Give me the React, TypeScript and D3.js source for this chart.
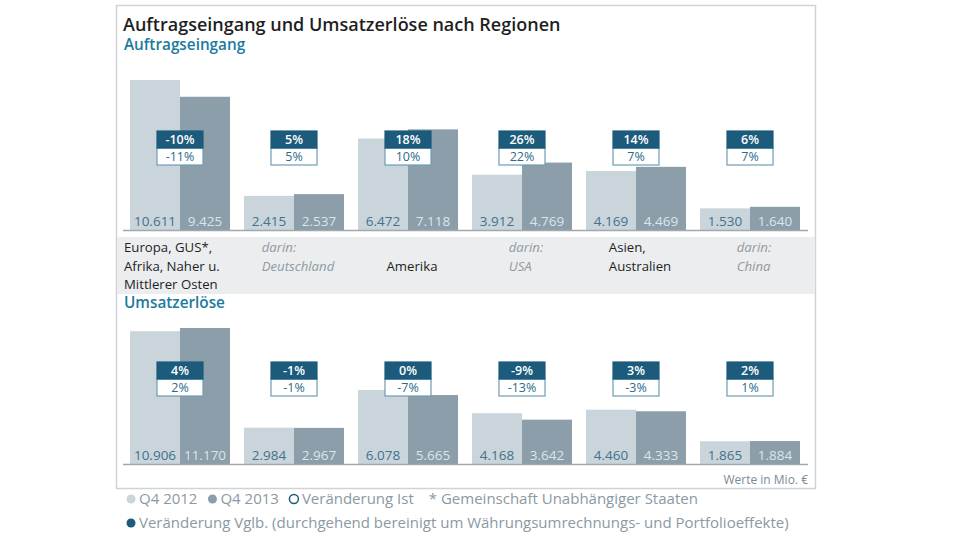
import React, { useEffect, useRef } from 'react';
import * as d3 from 'd3';

const regions = ['Europa', 'Deutschland', 'Amerika', 'USA', 'Asien', 'China'];
const regionLines = [
  ['Europa, GUS*,', 'Afrika, Naher u.', 'Mittlerer Osten'],
  ['darin:', 'Deutschland'],
  ['Amerika'],
  ['darin:', 'USA'],
  ['Asien,', 'Australien'],
  ['darin:', 'China'],
];
const isSubRegion = [false, true, false, true, false, true];
const periods = ['Q4 2012', 'Q4 2013'];

const ordersQ4_2012 = [10611, 2415, 6472, 3912, 4169, 1530];
const ordersQ4_2013 = [9425, 2537, 7118, 4769, 4469, 1640];
const ordersVglb = [-10, 5, 18, 26, 14, 6];
const ordersIst = [-11, 5, 10, 22, 7, 7];

const revenueQ4_2012 = [10906, 2984, 6078, 4168, 4460, 1865];
const revenueQ4_2013 = [11170, 2967, 5665, 3642, 4333, 1884];
const revenueVglb = [4, -1, 0, -9, 3, 2];
const revenueIst = [2, -1, -7, -13, -3, 1];

const legendRow1 = ['Q4 2012', 'Q4 2013', 'Veränderung Ist', '* Gemeinschaft Unabhängiger Staaten'];
const legendRow2 = 'Veränderung Vglb. (durchgehend bereinigt um Währungsumrechnungs- und Portfolioeffekte)';

const FONT = '"Open Sans", "DejaVu Sans", sans-serif';
const LIGHT = '#c9d4db';
const DARK = '#8b9eaa';
const NAVY = '#1c5b7b';
const TEAL = '#1c7a9e';

const loc = d3.formatLocale({ decimal: ',', thousands: '.', grouping: [3], currency: ['', ' €'] });
const fmt = loc.format(',d');

export default function App() {
  const svgRef = useRef<SVGSVGElement>(null);

  useEffect(() => {
    if (!svgRef.current) return;
    const svg = d3.select(svgRef.current);
    svg.selectAll('*').remove();

    // frame
    svg.append('rect').attr('x', 116.5).attr('y', 5.5).attr('width', 699).attr('height', 483)
      .attr('fill', '#fff').attr('stroke', '#cfd3d6').attr('stroke-width', 1.5);

    svg.append('text').attr('x', 123).attr('y', 31).attr('font-family', FONT).attr('font-size', 18)
      .attr('font-weight', 600).attr('fill', '#1f1f1f').text('Auftragseingang und Umsatzerlöse nach Regionen');

    const x = d3.scaleBand<string>().domain(regions).range([130, 800]).paddingInner(14 / 114).paddingOuter(0);
    const xi = d3.scaleBand<string>().domain(periods).range([0, x.bandwidth()]);

    const panel = (
      title: string, titleY: number, base: number, top: number, boxTop: number,
      a: number[], b: number[], vglb: number[], ist: number[]
    ) => {
      svg.append('text').attr('x', 124).attr('y', titleY).attr('font-family', FONT).attr('font-size', 15.3)
        .attr('font-weight', 600).attr('fill', TEAL).text(title);

      const y = d3.scaleLinear().domain([0, d3.max([...a, ...b]) as number]).range([base, top]);
      const g = svg.append('g');
      const groups = g.selectAll('g.grp').data(regions).enter().append('g')
        .attr('transform', (d) => `translate(${x(d)},0)`);

      groups.each(function (_d, i) {
        const gg = d3.select(this);
        const vals = [a[i], b[i]];
        periods.forEach((p, j) => {
          gg.append('rect').attr('x', xi(p) as number).attr('y', y(vals[j]))
            .attr('width', xi.bandwidth()).attr('height', base - y(vals[j]))
            .attr('fill', j === 0 ? LIGHT : DARK);
          gg.append('text').attr('x', (xi(p) as number) + xi.bandwidth() / 2).attr('y', base - 9)
            .attr('dy', '0.35em').attr('text-anchor', 'middle').attr('font-family', FONT)
            .attr('font-size', 13.5).attr('fill', j === 0 ? '#44718c' : '#dce5ea').text(fmt(vals[j]));
        });
        // change boxes
        const cx = x.bandwidth() / 2;
        const bw = 46, bh = 17;
        gg.append('rect').attr('x', cx - bw / 2).attr('y', boxTop + bh).attr('width', bw).attr('height', bh)
          .attr('fill', '#fff').attr('stroke', '#6f9bb2').attr('stroke-width', 1.2);
        gg.append('rect').attr('x', cx - bw / 2).attr('y', boxTop).attr('width', bw).attr('height', bh)
          .attr('fill', NAVY).attr('stroke', NAVY).attr('stroke-width', 1.2);
        gg.append('text').attr('x', cx).attr('y', boxTop + bh / 2).attr('dy', '0.36em')
          .attr('text-anchor', 'middle').attr('font-family', FONT).attr('font-size', 12.5)
          .attr('font-weight', 600).attr('fill', '#fff').text(`${vglb[i]}%`);
        gg.append('text').attr('x', cx).attr('y', boxTop + bh * 1.5).attr('dy', '0.36em')
          .attr('text-anchor', 'middle').attr('font-family', FONT).attr('font-size', 12.5)
          .attr('fill', '#2b6a89').text(`${ist[i]}%`);
      });

      g.append('line').attr('x1', 123).attr('x2', 808).attr('y1', base + 0.5).attr('y2', base + 0.5)
        .attr('stroke', '#9fa9b0').attr('stroke-width', 1.5);
    };

    panel('Auftragseingang', 50, 230, 80, 131, ordersQ4_2012, ordersQ4_2013, ordersVglb, ordersIst);

    // region band
    svg.append('rect').attr('x', 117).attr('y', 237).attr('width', 698).attr('height', 57).attr('fill', '#ebedef');
    const lineYs = [247, 266, 284];
    regionLines.forEach((lines, i) => {
      const t = svg.append('g');
      const start = lines.length === 1 ? 1 : 0;
      lines.forEach((ln, k) => {
        const italic = isSubRegion[i];
        t.append('text').attr('y', lineYs[start + k]).attr('dy', '0.35em').attr('font-family', FONT)
          .attr('font-size', 13.2).attr('font-style', italic ? 'italic' : 'normal')
          .attr('fill', italic ? '#8e9aa3' : '#1f1f1f').text(ln);
      });
      const w = d3.max(t.selectAll<SVGTextElement, unknown>('text').nodes(), (n) => n.getComputedTextLength()) || 0;
      const cx = (x(regions[i]) as number) + x.bandwidth() / 2 + 4;
      const left = w > x.bandwidth() * 0.9 ? (x(regions[i]) as number) - 6 : cx - w / 2;
      t.selectAll('text').attr('x', left);
    });

    panel('Umsatzerlöse', 308, 464, 328, 362, revenueQ4_2012, revenueQ4_2013, revenueVglb, revenueIst);

    svg.append('text').attr('x', 808).attr('y', 484).attr('text-anchor', 'end').attr('font-family', FONT)
      .attr('font-size', 12).attr('fill', '#7b8a94').text('Werte in Mio. €');

    // legend
    const legendColor = '#8a99a3';
    const markers = [
      { fill: LIGHT, stroke: 'none' },
      { fill: DARK, stroke: 'none' },
      { fill: '#fff', stroke: NAVY },
      null,
    ];
    let lx = 131;
    legendRow1.forEach((label, i) => {
      const m = markers[i];
      let tx = lx;
      if (m) {
        svg.append('circle').attr('cx', lx).attr('cy', 499).attr('r', 4.5).attr('fill', m.fill)
          .attr('stroke', m.stroke).attr('stroke-width', 1.5);
        tx = lx + 8;
      }
      const t = svg.append('text').attr('x', tx).attr('y', 499).attr('dy', '0.35em').attr('font-family', FONT)
        .attr('font-size', 15).attr('fill', legendColor).text(label);
      lx = tx + (t.node() as SVGTextElement).getComputedTextLength() + 15;
    });
    svg.append('circle').attr('cx', 131).attr('cy', 523).attr('r', 4.5).attr('fill', NAVY);
    svg.append('text').attr('x', 139).attr('y', 523).attr('dy', '0.35em').attr('font-family', FONT)
      .attr('font-size', 15).attr('fill', legendColor).text(legendRow2);
  }, []);

  return (
    <div style={{ position: 'fixed', left: 0, top: 0, width: 960, height: 539, background: '#fff' }}>
      <svg ref={svgRef} width={960} height={539} viewBox="0 0 960 539" style={{ display: 'block' }}></svg>
    </div>
  );
}
